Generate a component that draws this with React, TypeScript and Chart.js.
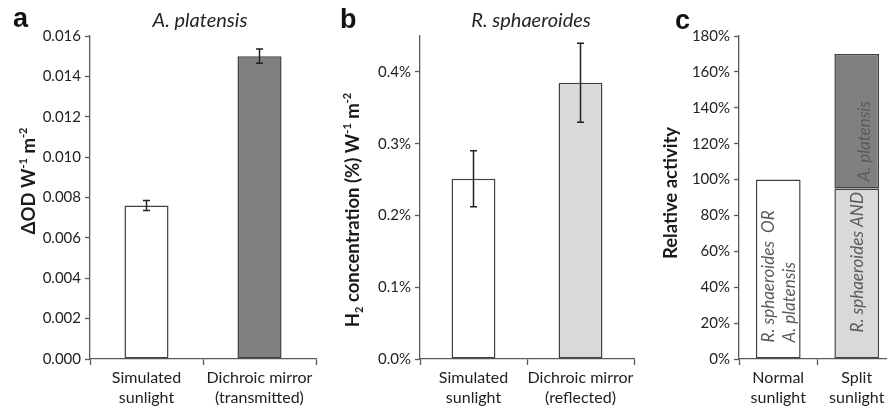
import React, { useEffect, useRef } from 'react';
import { Chart, registerables } from 'chart.js';

Chart.register(...registerables);

// ---------- data ----------
const catsA = [['Simulated', 'sunlight'], ['Dichroic mirror', '(transmitted)']];
const valsA = [0.0076, 0.015];
const errA = [0.00025, 0.00035];
const ticksA = [0, 0.002, 0.004, 0.006, 0.008, 0.01, 0.012, 0.014, 0.016];

const catsB = [['Simulated', 'sunlight'], ['Dichroic mirror', '(reflected)']];
const valsB = [0.251, 0.385]; // % W-1 m-2
const errB = [0.039, 0.055];
const ticksB = [0, 0.1, 0.2, 0.3, 0.4];

const catsC = [['Normal', 'sunlight'], ['Split', 'sunlight']];
const baseC = [100, 95];
const topC = [null, 75];
const ticksC = [0, 20, 40, 60, 80, 100, 120, 140, 160, 180];
const baseTextC = [['R. sphaeroides  OR', 'A. platensis'], ['R. sphaeroides AND']];
const topTextC = [null, 'A. platensis'];

// ---------- styles ----------
const AXIS = '#5a5a5a';
const TXT = '#222222';
const EDGE = '#404040';
const WHITE = '#ffffff';
const LIGHT = '#d9d9d9';
const DARK = '#808080';
const FONT = 'Lato';

type Seg = { t: string; k?: 'sup' | 'sub' };

function drawRich(ctx: CanvasRenderingContext2D, segs: Seg[], cx: number, cy: number, size: number) {
  const small = Math.round(size * 0.62);
  const fontOf = (s: Seg) => `bold ${s.k ? small : size}px ${FONT}`;
  let total = 0;
  const widths = segs.map((s) => {
    ctx.font = fontOf(s);
    const w = ctx.measureText(s.t).width;
    total += w;
    return w;
  });
  ctx.save();
  ctx.translate(cx, cy);
  ctx.rotate(-Math.PI / 2);
  ctx.textAlign = 'left';
  ctx.textBaseline = 'alphabetic';
  ctx.fillStyle = '#1a1a1a';
  let x = -total / 2;
  const base = size * 0.36;
  segs.forEach((s, i) => {
    ctx.font = fontOf(s);
    const dy = s.k === 'sup' ? -size * 0.4 : s.k === 'sub' ? size * 0.22 : 0;
    ctx.fillText(s.t, x, base + dy);
    x += widths[i];
  });
  ctx.restore();
}

const errorBars = {
  id: 'errorBars',
  afterDatasetsDraw(chart: any) {
    const ctx = chart.ctx;
    const y = chart.scales.y;
    chart.data.datasets.forEach((ds: any, di: number) => {
      if (!ds.errors) return;
      const meta = chart.getDatasetMeta(di);
      meta.data.forEach((el: any, i: number) => {
        const v = ds.data[i];
        const e = ds.errors[i];
        const t = y.getPixelForValue(v + e);
        const b = y.getPixelForValue(v - e);
        ctx.save();
        ctx.strokeStyle = '#222';
        ctx.lineWidth = 1.5;
        ctx.beginPath();
        ctx.moveTo(el.x, t);
        ctx.lineTo(el.x, b);
        ctx.moveTo(el.x - 3.5, t);
        ctx.lineTo(el.x + 3.5, t);
        ctx.moveTo(el.x - 3.5, b);
        ctx.lineTo(el.x + 3.5, b);
        ctx.stroke();
        ctx.restore();
      });
    });
  },
};

type Annot = {
  offset: number;
  letter: string;
  letterX: number;
  letterY: number;
  title: string;
  titleX: number;
  titleY: number;
  yTitle: Seg[];
  yTitleX: number;
  yTitleY: number;
};

function annot(o: Annot) {
  return {
    id: 'annot' + o.letter,
    afterDraw(chart: any) {
      const ctx: CanvasRenderingContext2D = chart.ctx;
      ctx.save();
      ctx.fillStyle = '#111';
      ctx.textBaseline = 'alphabetic';
      ctx.textAlign = 'left';
      ctx.font = `bold 27px "Liberation Sans", Arial, sans-serif`;
      ctx.fillText(o.letter, o.letterX - o.offset, o.letterY);
      if (o.title) {
        ctx.font = `italic 20px ${FONT}`;
        ctx.textAlign = 'center';
        ctx.fillStyle = '#262626';
        ctx.fillText(o.title, o.titleX - o.offset, o.titleY);
      }
      ctx.restore();
      drawRich(ctx, o.yTitle, o.yTitleX - o.offset, o.yTitleY, 18.5);
    },
  };
}

const barText = {
  id: 'barText',
  afterDatasetsDraw(chart: any) {
    const ctx: CanvasRenderingContext2D = chart.ctx;
    const m0 = chart.getDatasetMeta(0);
    const m1 = chart.getDatasetMeta(1);
    ctx.save();
    ctx.fillStyle = '#5a5a5a';
    ctx.font = `italic 17px ${FONT}`;
    ctx.textAlign = 'left';
    ctx.textBaseline = 'middle';
    const starts = [16, 26];
    const offs = [[-10, 11], [1]];
    m0.data.forEach((el: any, i: number) => {
      baseTextC[i].forEach((line, j) => {
        ctx.save();
        ctx.translate(el.x + offs[i][j], el.base - starts[i]);
        ctx.rotate(-Math.PI / 2);
        ctx.fillText(line, 0, 0);
        ctx.restore();
      });
    });
    m1.data.forEach((el: any, i: number) => {
      const txt = topTextC[i];
      if (!txt || topC[i] == null) return;
      ctx.save();
      ctx.translate(el.x + 8, el.base - 7);
      ctx.rotate(-Math.PI / 2);
      ctx.fillText(txt, 0, 0);
      ctx.restore();
    });
    ctx.restore();
  },
};

function xScale(height: number, stacked = false) {
  return {
    type: 'category',
    offset: true,
    stacked,
    grid: {
      display: true,
      offset: true,
      drawOnChartArea: false,
      drawTicks: true,
      tickLength: 6,
      tickColor: AXIS,
      tickWidth: 1.3,
    },
    border: { display: true, color: AXIS, width: 1.3 },
    ticks: {
      color: TXT,
      font: { family: FONT, size: 16, lineHeight: 1.25 },
      padding: 3,
      maxRotation: 0,
      minRotation: 0,
      autoSkip: false,
    },
    afterFit: (s: any) => {
      s.height = height;
    },
  };
}

function yScale(width: number, min: number, max: number, ticks: number[], fmt: (v: number) => string, stacked = false) {
  return {
    min,
    max,
    stacked,
    grid: { drawOnChartArea: false, tickLength: 5, tickColor: AXIS, tickWidth: 1.3 },
    border: { display: true, color: AXIS, width: 1.3 },
    ticks: {
      color: TXT,
      font: { family: FONT, size: 15 },
      padding: 4,
      callback: (v: any) => fmt(Number(v)),
    },
    afterBuildTicks: (s: any) => {
      s.ticks = ticks.map((v) => ({ value: v }));
    },
    afterFit: (s: any) => {
      s.width = width;
    },
  };
}

const baseOptions = (padding: any) => ({
  animation: false,
  responsive: true,
  maintainAspectRatio: false,
  layout: { padding },
  plugins: { legend: { display: false }, tooltip: { enabled: false }, title: { display: false } },
});

function buildA(): any {
  return {
    type: 'bar',
    data: {
      labels: catsA,
      datasets: [
        {
          data: valsA,
          errors: errA,
          backgroundColor: [WHITE, DARK],
          borderColor: EDGE,
          borderWidth: 1.5,
          borderSkipped: false,
          barPercentage: 0.39,
          categoryPercentage: 1,
        },
      ],
    },
    options: {
      ...baseOptions({ top: 36, right: 14, left: 0, bottom: 0 }),
      scales: { x: xScale(51), y: yScale(90, 0, 0.016, ticksA, (v) => v.toFixed(3)) },
    },
    plugins: [
      errorBars,
      annot({
        offset: 0,
        letter: 'a',
        letterX: 13,
        letterY: 27,
        title: 'A. platensis',
        titleX: 200,
        titleY: 27,
        yTitle: [{ t: 'ΔOD W' }, { t: '-1', k: 'sup' }, { t: ' m' }, { t: '-2', k: 'sup' }],
        yTitleX: 28,
        yTitleY: 181,
      }),
    ],
  };
}

function buildB(): any {
  return {
    type: 'bar',
    data: {
      labels: catsB,
      datasets: [
        {
          data: valsB,
          errors: errB,
          backgroundColor: [WHITE, LIGHT],
          borderColor: EDGE,
          borderWidth: 1.5,
          borderSkipped: false,
          barPercentage: 0.41,
          categoryPercentage: 1,
        },
      ],
    },
    options: {
      ...baseOptions({ top: 36, right: 16, left: 0, bottom: 0 }),
      scales: { x: xScale(51), y: yScale(100, 0, 0.45, ticksB, (v) => v.toFixed(1) + '%') },
    },
    plugins: [
      errorBars,
      annot({
        offset: 320,
        letter: 'b',
        letterX: 340,
        letterY: 28,
        title: 'R. sphaeroides',
        titleX: 531,
        titleY: 27,
        yTitle: [
          { t: 'H' },
          { t: '2', k: 'sub' },
          { t: ' concentration (%) W' },
          { t: '-1', k: 'sup' },
          { t: ' m' },
          { t: '-2', k: 'sup' },
        ],
        yTitleX: 352,
        yTitleY: 210,
      }),
    ],
  };
}

function buildC(): any {
  return {
    type: 'bar',
    data: {
      labels: catsC,
      datasets: [
        {
          data: baseC,
          backgroundColor: [WHITE, LIGHT],
          borderColor: EDGE,
          borderWidth: 1.5,
          borderSkipped: false,
          barPercentage: 0.57,
          categoryPercentage: 1,
        },
        {
          data: topC,
          backgroundColor: DARK,
          borderColor: EDGE,
          borderWidth: 1.5,
          borderSkipped: false,
          barPercentage: 0.57,
          categoryPercentage: 1,
        },
      ],
    },
    options: {
      ...baseOptions({ top: 36, right: 0, left: 0, bottom: 0 }),
      scales: { x: xScale(51, true), y: yScale(89, 0, 180, ticksC, (v) => v + '%', true) },
    },
    plugins: [
      barText,
      annot({
        offset: 650,
        letter: 'c',
        letterX: 675,
        letterY: 29,
        title: '',
        titleX: 0,
        titleY: 0,
        yTitle: [{ t: 'Relative activity' }],
        yTitleX: 670,
        yTitleY: 193,
      }),
    ],
  };
}

function Panel({ left, width, build }: { left: number; width: number; build: () => any }) {
  const ref = useRef<HTMLCanvasElement>(null);
  useEffect(() => {
    const chart = new Chart(ref.current as HTMLCanvasElement, build());
    return () => chart.destroy();
  }, [build]);
  return (
    <div style={{ position: 'absolute', left, top: 0, width, height: 410 }}>
      <canvas ref={ref} />
    </div>
  );
}

export default function App() {
  return (
    <div
      style={{
        position: 'absolute',
        left: 0,
        top: 0,
        width: 887,
        height: 410,
        overflow: 'hidden',
        background: '#ffffff',
      }}
    >
      <Panel left={0} width={330} build={buildA} />
      <Panel left={320} width={330} build={buildB} />
      <Panel left={650} width={246} build={buildC} />
    </div>
  );
}
